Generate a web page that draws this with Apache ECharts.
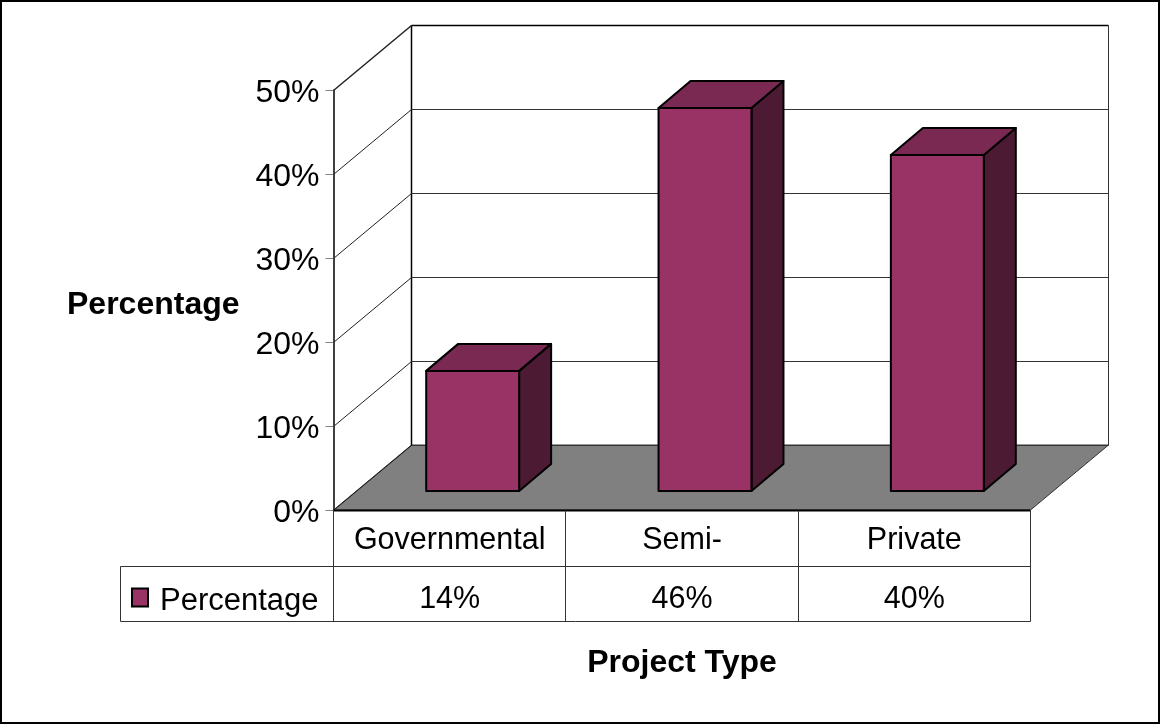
<!DOCTYPE html>
<html><head><meta charset="utf-8">
<style>html,body{margin:0;padding:0;background:#fff}#c{width:1160px;height:725px}</style>
<script src="https://cdn.jsdelivr.net/npm/echarts@6/dist/echarts.min.js"></script>
</head><body><div id="c"></div>
<script>
const categories = ['Governmental', 'Semi-', 'Private'];
const percentages = [14.3, 45.6, 40];
const tableLabels = ['14%', '46%', '40%'];
const yTicks = [0, 10, 20, 30, 40, 50];
const seriesName = 'Percentage';
const yTitle = 'Percentage';
const xTitle = 'Project Type';

const FONT = '"Liberation Sans", Arial, sans-serif';
const WALL = [78, -65], BAR_SHIFT = [23, -19], BAR_DEPTH = [32, -27];
const chart = echarts.init(document.getElementById('c'), null, {renderer: 'canvas'});

const snap = v => Math.floor(v) + 0.5;
function line(x1, y1, x2, y2, w, c) {
  return {type: 'line', shape: {x1: snap(x1), y1: snap(y1), x2: snap(x2), y2: snap(y2)},
    style: {stroke: c || '#000', lineWidth: w || 1}};
}

chart.setOption({
  animation: false,
  backgroundColor: '#fff',
  textStyle: {fontFamily: FONT},
  title: {text: yTitle, left: 62, top: 284, padding: 5,
    textStyle: {fontSize: 32, fontWeight: 'bold', color: '#000', fontFamily: FONT}},
  grid: {left: 333.5, top: 90, width: 697, height: 420, containLabel: false},
  graphic: [{type: 'rect', z: 0, silent: true,
    shape: {x: 1, y: 1, width: 1158, height: 722},
    style: {fill: 'none', stroke: '#000', lineWidth: 2}}],
  legend: {
    show: true, left: 126, top: 581, orient: 'horizontal',
    data: [{name: seriesName, icon: 'rect',
      itemStyle: {color: '#993366', borderColor: '#000', borderWidth: 2}}],
    itemWidth: 16, itemHeight: 18,
    formatter: '{t|{name}}',
    textStyle: {color: '#000', rich: {t: {fontSize: 31, color: '#000', fontFamily: FONT, padding: [8, 0, 0, 7]}}}
  },
  xAxis: {
    type: 'category', data: categories,
    axisLine: {show: false}, axisTick: {show: false},
    axisLabel: {fontSize: 30.5, color: '#000', fontFamily: FONT, margin: 15, interval: 0, hideOverlap: false},
    name: xTitle, nameLocation: 'middle', nameGap: 137,
    nameTextStyle: {fontSize: 32, fontWeight: 'bold', color: '#000', fontFamily: FONT}
  },
  yAxis: {
    type: 'value', min: 0, max: 50, interval: 10,
    axisLine: {show: true, lineStyle: {color: '#000', width: 1.5}},
    axisTick: {show: true, length: 8, lineStyle: {color: '#808080', width: 1}},
    axisLabel: {color: '#000', margin: 14, formatter: '{v|{value}%}',
      rich: {v: {fontSize: 32, color: '#000', fontFamily: FONT, padding: [7, 0, 0, 0]}}},
    splitLine: {show: false}
  },
  series: [
    { // back wall gridlines and side wall diagonals, one item per tick
      type: 'custom', name: 'walls', z: 1, silent: true, legendHoverLink: false,
      data: yTicks.map(v => [v]),
      encode: {y: 0},
      renderItem(params, api) {
        const v = api.value(0);
        const a = api.coord([0, v]);
        const xL = a[0] - api.size([1, 0])[0] / 2;
        const xR = xL + api.size([1, 0])[0] * categories.length;
        const y = a[1];
        const top = v === 50;
        const kids = [
          line(xL, y, xL + WALL[0], y + WALL[1], top ? 1.5 : 1, '#222'),
          line(xL + WALL[0], y + WALL[1], xR + WALL[0], y + WALL[1], top ? 1.5 : 1, top ? '#000' : '#333')
        ];
        if (v === 0) {
          kids.unshift({type: 'polygon', shape: {points: [
            [xL, y], [xL + WALL[0], y + WALL[1]], [xR + WALL[0], y + WALL[1]], [xR, y]
          ]}, style: {fill: '#808080', stroke: '#333', lineWidth: 1}});
          const t = api.coord([0, 50])[1];
          kids.push(line(xL + WALL[0], t + WALL[1], xL + WALL[0], y + WALL[1], 1.5));
          kids.push(line(xR + WALL[0], t + WALL[1], xR + WALL[0], y + WALL[1], 1, '#333'));
          kids.push(line(xL, y, xR, y, 2));
        }
        return {type: 'group', children: kids};
      }
    },
    { // data table grid below the plot
      type: 'custom', name: 'table', z: 1, silent: true, legendHoverLink: false,
      data: [[0]],
      encode: {x: 0},
      renderItem(params, api) {
        const w = api.size([1, 0])[0];
        const o = api.coord([0, 0]);
        const xL = o[0] - w / 2, y0 = o[1];
        const kids = [
          line(xL, y0 + 56, xL + 3 * w, y0 + 56, 1, '#333'),
          line(xL - 213.5, y0 + 111, xL + 3 * w, y0 + 111, 1, '#333'),
          line(xL - 213.5, y0 + 56, xL, y0 + 56, 1, '#333'),
          line(xL - 213.5, y0 + 56, xL - 213.5, y0 + 111, 1, '#333')
        ];
        for (let i = 0; i <= categories.length; i++) {
          kids.push(line(xL + i * w, y0, xL + i * w, y0 + 111, 1, '#333'));
        }
        return {type: 'group', children: kids};
      }
    },
    { // 3D bars with their data table value
      type: 'custom', name: seriesName, z: 3,
      itemStyle: {color: '#993366'},
      data: percentages.map((v, i) => [i, v]),
      encode: {x: 0, y: 1},
      renderItem(params, api) {
        const i = api.value(0), v = api.value(1);
        const base = api.coord([i, 0]), top = api.coord([i, v]);
        const bw = api.size([1, 0])[0] * 0.4;
        const x0 = base[0] + BAR_SHIFT[0] - bw / 2, x1 = x0 + bw;
        const yB = base[1] + BAR_SHIFT[1], yT = top[1] + BAR_SHIFT[1];
        const dx = BAR_DEPTH[0], dy = BAR_DEPTH[1];
        const edge = {stroke: '#000', lineWidth: 2, lineJoin: 'round'};
        return {type: 'group', children: [
          {type: 'polygon', shape: {points: [[x1, yT], [x1 + dx, yT + dy], [x1 + dx, yB + dy], [x1, yB]]},
            style: Object.assign({fill: '#4d1a33'}, edge)},
          {type: 'polygon', shape: {points: [[x0, yT], [x0 + dx, yT + dy], [x1 + dx, yT + dy], [x1, yT]]},
            style: Object.assign({fill: '#7a2952'}, edge)},
          {type: 'rect', shape: {x: x0, y: yT, width: bw, height: yB - yT},
            style: Object.assign({fill: '#993366'}, edge)},
          {type: 'text', x: base[0], y: base[1] + 90,
            style: {text: tableLabels[i], fill: '#000', font: '30.5px ' + FONT, align: 'center', verticalAlign: 'middle'}}
        ]};
      }
    }
  ]
});
</script></body></html>
